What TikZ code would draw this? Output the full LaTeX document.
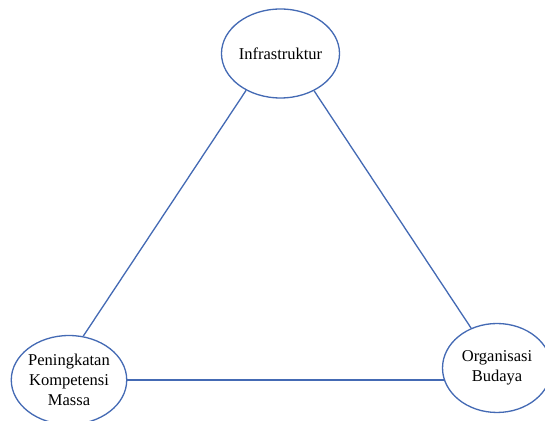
\documentclass[tikz,border=0pt]{standalone}
\usepackage{fontspec}
\setmainfont{Liberation Serif}
\usepackage{tikz}
\usetikzlibrary{shapes.geometric}
\definecolor{lineblue}{RGB}{68,106,180}

\begin{document}
\begin{tikzpicture}[x=0.02cm, y=-0.02cm,
    elip/.style={ellipse, draw=lineblue, line width=0.75pt, fill=white, inner sep=0pt,
      minimum width=2.18cm, minimum height=1.78cm, align=center,
      font=\fontsize{9.4}{11.4}\selectfont},
    link/.style={draw=lineblue, line width=0.75pt}]
  \useasboundingbox (0,0) rectangle (545,421);
  \node[elip] (infra) at (280.5,53.5) {Infrastruktur};
  \node[elip] (kompetensi) at (69,380) {Peningkatan\\Kompetensi\\Massa};
  \node[elip] (budaya) at (497,368) {Organisasi\\Budaya};
  \draw[link] (infra.227) -- (kompetensi.72);
  \draw[link] (infra.312) -- (budaya.123);
  \draw[link] (kompetensi.east) -- (kompetensi.east -| budaya.193);
\end{tikzpicture}
\end{document}
